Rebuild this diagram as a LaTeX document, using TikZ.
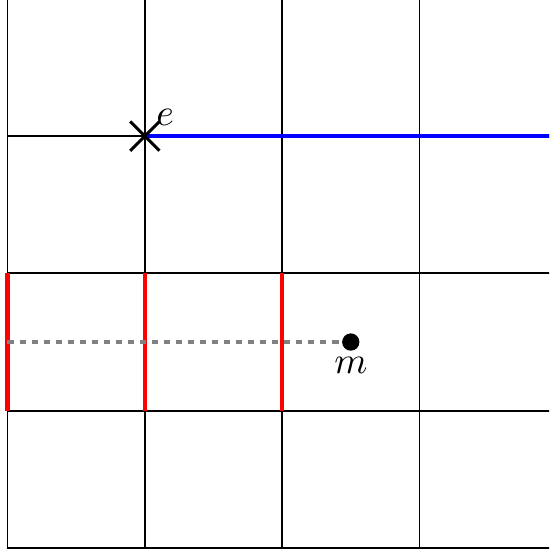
\documentclass[tikz,border=0pt]{standalone}
\usetikzlibrary{shapes.misc}
\begin{document}
\begin{tikzpicture}[x=1.283cm,y=1.283cm,
  gridline/.style={black,line width=0.5pt},
  redseg/.style={red,line width=1.2pt},
  blueseg/.style={blue,line width=1.2pt},
  dashseg/.style={gray,line width=1pt,dash pattern=on 1.6pt off 1.6pt},
  crossmark/.style={cross out,draw,black,line width=0.8pt,minimum size=7pt,inner sep=0pt},
  dotmark/.style={circle,fill=black,minimum size=4.6pt,inner sep=0pt}]
\useasboundingbox (-0.0546,-0.029) rectangle (3.944,3.991);
\clip (-0.0546,-0.029) rectangle (3.944,3.991);
\foreach \i in {0,1,2,3} {
  \draw[gridline] (\i,0) -- (\i,4.2);
  \draw[gridline] (0,\i) -- (4.2,\i);
}
\coordinate (r0a) at (0,1); \coordinate (r0b) at (0,2);
\coordinate (r1a) at (1,1); \coordinate (r1b) at (1,2);
\coordinate (r2a) at (2,1); \coordinate (r2b) at (2,2);
\draw[redseg] (r0a) -- (r0b);
\draw[redseg] (r1a) -- (r1b);
\draw[redseg] (r2a) -- (r2b);
\coordinate (s) at (0,1.5);
\coordinate (mc) at (2.5,1.5);
\draw[dashseg] (s) -- (mc);
\node[dotmark] (m) at (mc) {};
\node[below, inner sep=3.8pt] (mlab) at (mc) {$m$};
\coordinate (ec) at (1,3);
\coordinate (bend) at (4.2,3);
\draw[blueseg] (ec) -- (bend);
\node[crossmark] (e) at (ec) {};
\node[anchor=base west, inner sep=0pt] (elab) at ([shift={(2.9pt,2.7pt)}]ec) {$e$};
\end{tikzpicture}
\end{document}
